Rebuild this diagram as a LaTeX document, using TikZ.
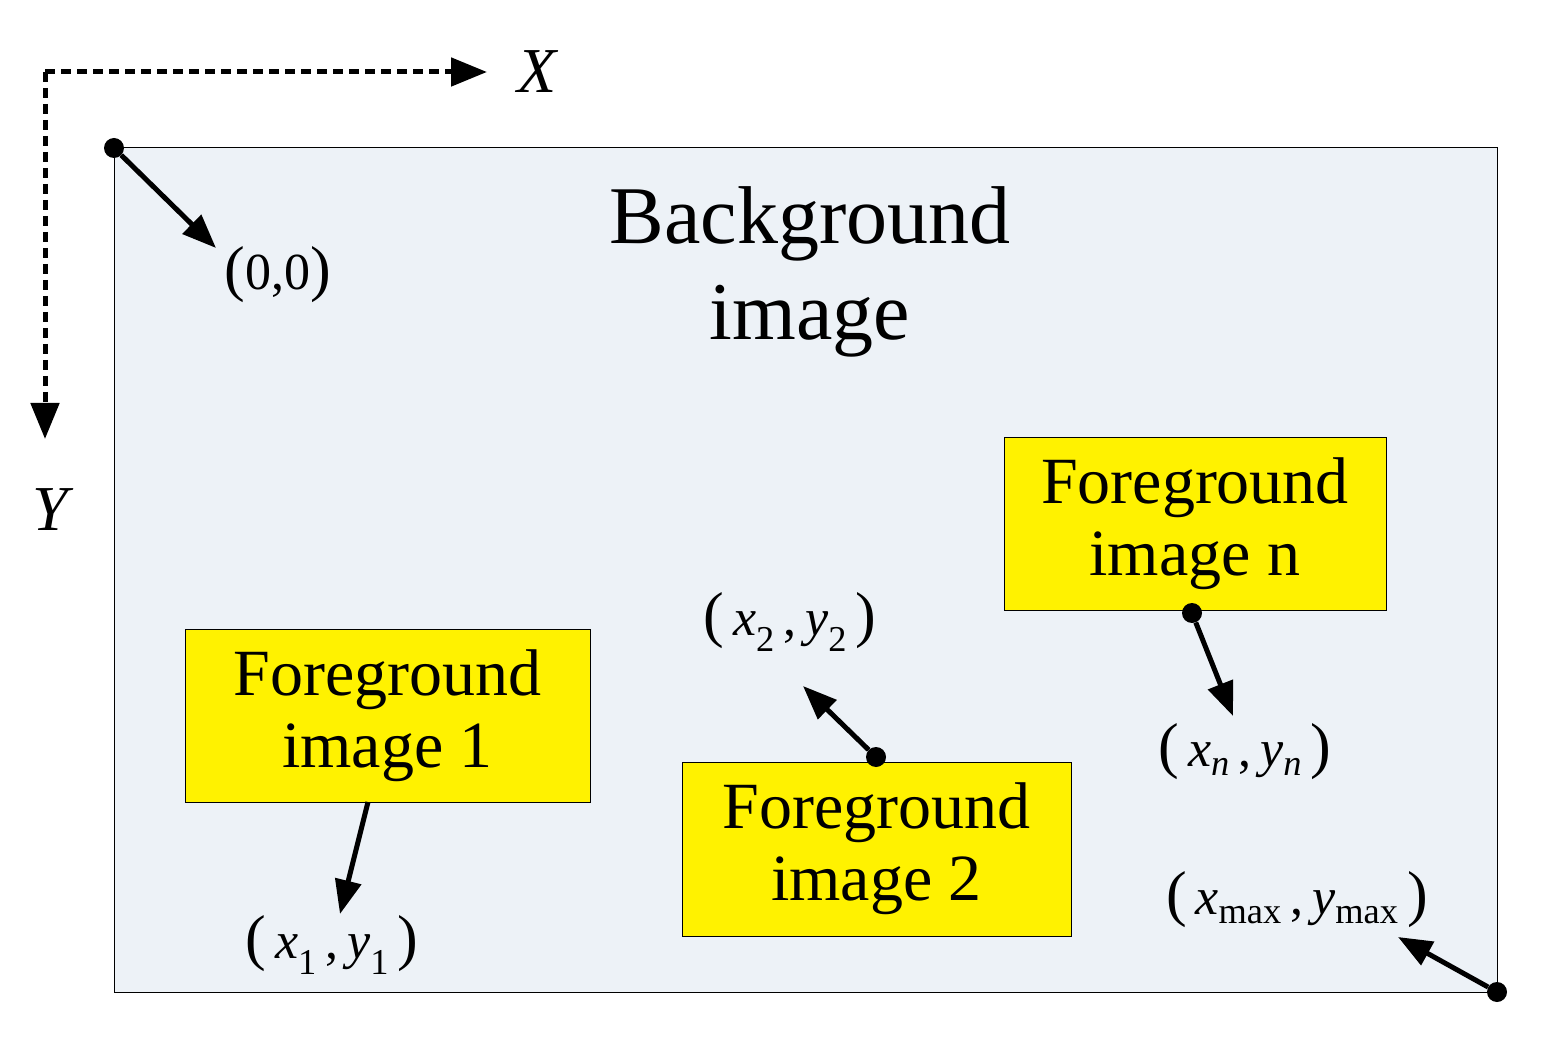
\documentclass[tikz,border=0pt]{standalone}
\usepackage{fontspec}
\setmainfont{Liberation Serif}
\usetikzlibrary{arrows.meta}
\newcommand{\bp}[1]{{\fontsize{62}{62}\selectfont #1}}
\newcommand{\lab}[3]{\bp{(}\,\textit{#1}\textsubscript{#3}\,,\,\textit{#2}\textsubscript{#3}\,\bp{)}}
\begin{document}
\begin{tikzpicture}[x=1pt,y=-1pt,
  arr/.style={line width=5pt,-{Triangle[length=34pt,width=26pt]}},
  dot/.style={circle,fill=black,inner sep=0pt,minimum size=20pt},
  fg/.style={draw=black,line width=1pt,fill=yellow,minimum width=#1,align=center,font=\fontsize{66}{72}\selectfont,inner sep=0pt},
  lbl/.style={font=\fontsize{52}{52}\selectfont,inner sep=0pt}]
\useasboundingbox (0,0) rectangle (1556,1056);
\draw[line width=1pt,fill={rgb,255:red,237;green,242;blue,247}] (114,148) rectangle (1497,992);
\coordinate (o) at (45,72);
\coordinate (xe) at (487,72);
\coordinate (ye) at (45,439);
\draw[line width=5pt,dash pattern=on 10pt off 6pt,-{Triangle[length=36pt,width=28pt]}] (o) -- (xe);
\draw[line width=5pt,dash pattern=on 10pt off 6pt,-{Triangle[length=36pt,width=28pt]}] (o) -- (ye);
\node[font=\fontsize{64}{64}\selectfont\itshape] (X) at (537,72) {X};
\node[font=\fontsize{64}{64}\selectfont\itshape] (Y) at (50,510) {Y};
\node[align=center,font=\fontsize{82}{96}\selectfont] (bg) at (810,272) {Background\\image};
\node[dot] (d0) at (114,148) {};
\coordinate (a0) at (216,248);
\draw[arr] (d0) -- (a0);
\node[lbl] (l0) at (278,275) {\bp{(}0,0\bp{)}};
\node[fg=405pt,minimum height=173pt] (f1) at (387.5,715.5) {Foreground\\image 1};
\coordinate (s1) at (368,802);
\coordinate (a1) at (340,914);
\draw[arr] (s1) -- (a1);
\node[lbl] (l1) at (332,945) {\lab{x}{y}{1}};
\node[fg=389pt,minimum height=174pt] (f2) at (876.5,849) {Foreground\\image 2};
\node[dot] (d2) at (876,757) {};
\coordinate (a2) at (803,686);
\draw[arr] (d2) -- (a2);
\node[lbl] (l2) at (790,622) {\lab{x}{y}{2}};
\node[fg=382pt,minimum height=172pt] (fn) at (1195,524) {Foreground\\image n};
\node[dot] (dn) at (1192,613) {};
\coordinate (an) at (1233,716);
\draw[arr] (dn) -- (an);
\node[lbl] (ln) at (1245,752) {\lab{x}{y}{\textit{n}}};
\node[dot] (dm) at (1497,992) {};
\coordinate (am) at (1398,937);
\draw[arr] (dm) -- (am);
\node[lbl] (lm) at (1297,900) {\lab{x}{y}{max}};
\end{tikzpicture}
\end{document}
